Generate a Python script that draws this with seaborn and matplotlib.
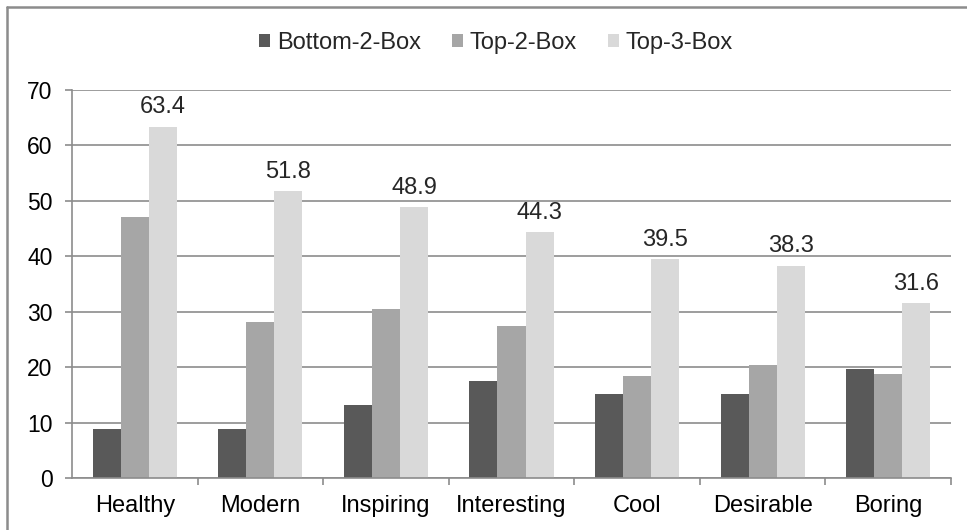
import matplotlib
matplotlib.use("Agg")
import matplotlib.pyplot as plt
import seaborn as sns
import pandas as pd
from matplotlib.lines import Line2D

categories = ["Healthy", "Modern", "Inspiring", "Interesting", "Cool", "Desirable", "Boring"]
series_names = ["Bottom-2-Box", "Top-2-Box", "Top-3-Box"]
bottom2 = [8.9, 8.8, 13.2, 17.5, 15.2, 15.2, 19.6]
top2 = [47.1, 28.1, 30.4, 27.5, 18.4, 20.3, 18.8]
top3 = [63.4, 51.8, 48.9, 44.3, 39.5, 38.3, 31.6]
colors = ["#595959", "#a6a6a6", "#d9d9d9"]

rows = []
for name, vals in zip(series_names, [bottom2, top2, top3]):
    for c, v in zip(categories, vals):
        rows.append({"category": c, "series": name, "value": v})
df = pd.DataFrame(rows)

sns.set_theme(style="white")
plt.rcParams["font.family"] = ["Liberation Sans", "DejaVu Sans"]

W, H = 967, 530
fig = plt.figure(figsize=(W / 100, H / 100), dpi=100)
ax = fig.add_axes([72 / W, 1 - 478 / H, (951 - 72) / W, (478 - 90) / H])

sns.barplot(data=df, x="category", y="value", hue="series", order=categories,
            hue_order=series_names, palette=colors, width=0.67, gap=0,
            saturation=1, edgecolor="none", ax=ax, legend=True)

grid_c = "#8c8c8c"
ax.set_ylim(0, 70)
ax.set_yticks(range(0, 71, 10))
ax.set_xlim(-0.5, len(categories) - 0.5)
ax.yaxis.grid(True, color=grid_c, linewidth=1.2)
ax.set_axisbelow(True)
ax.set_xlabel("")
ax.set_ylabel("")
for s in ["top", "right"]:
    ax.spines[s].set_visible(False)
for s in ["left", "bottom"]:
    ax.spines[s].set_color(grid_c)
    ax.spines[s].set_linewidth(1.2)

ax.tick_params(axis="y", which="major", length=5, width=1.2, color=grid_c,
               labelsize=16.5, pad=9, left=True, labelcolor="#000000")
ax.tick_params(axis="x", which="major", length=0, labelsize=17, pad=12, labelcolor="#000000")
ax.set_xticks([i - 0.5 for i in range(1, len(categories) + 1)], minor=True)
ax.tick_params(axis="x", which="minor", length=5, width=1.2, color=grid_c, bottom=True)

# data labels for Top-3-Box
top3_container = ax.containers[2]
ax.bar_label(top3_container, labels=[f"{v:.1f}" for v in top3], padding=6, fontsize=17)

handles, labels = ax.get_legend_handles_labels()
ax.get_legend().remove()
fig.legend(handles, labels, loc="center", bbox_to_anchor=(496 / W, 1 - 43 / H), ncol=3,
           frameon=False, fontsize=17, handlelength=0.47, handleheight=0.5,
           handletextpad=0.3, columnspacing=1.3)

# outer border (top and left edges visible in reference)
fig.add_artist(Line2D([7 / W, 7 / W], [0, 1 - 7 / H], transform=fig.transFigure,
                      color=grid_c, linewidth=1.8))
fig.add_artist(Line2D([7 / W, 1], [1 - 7 / H, 1 - 7 / H], transform=fig.transFigure,
                      color=grid_c, linewidth=1.8))

fig.savefig("out.png", dpi=100)
